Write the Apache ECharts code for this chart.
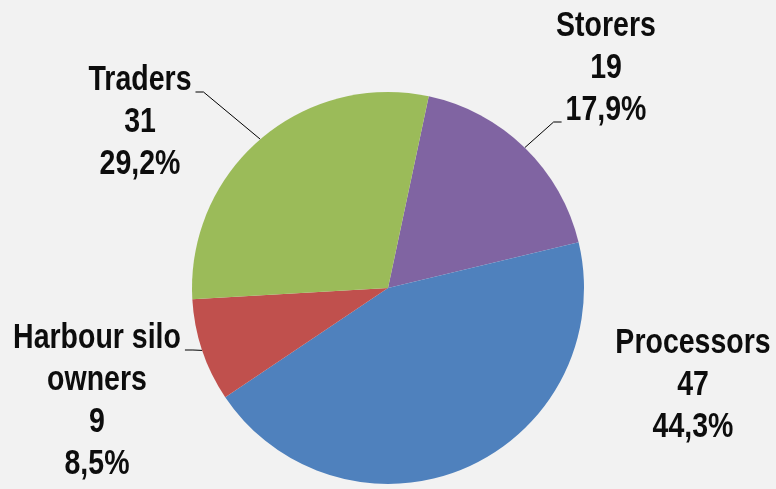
<!DOCTYPE html>
<html>
<head>
<meta charset="utf-8">
<script src="https://cdn.jsdelivr.net/npm/echarts@6/dist/echarts.min.js"></script>
<style>
html,body{margin:0;padding:0;background:#f2f2f2;}
#chart{width:776px;height:489px;}
</style>
</head>
<body>
<div id="chart"></div>
<script>
const categories = ['Storers', 'Processors', 'Harbour silo\nowners', 'Traders'];
const values = [19, 47, 9, 31];
const colors = ['#8064a2', '#4f81bd', '#c0504d', '#9bbb59'];

const total = values.reduce((a, b) => a + b, 0);
const FONT_SIZE = 28.5;
const TEXT_SCALE_Y = 1.22;          // reference font is a tall, narrow face
const LINE_H = 42 / TEXT_SCALE_Y;
const FONT_FAMILY = '"Liberation Sans", Arial, sans-serif';
// label anchor (center x, top y) and which text line the leader attaches to
const labelPos = [
  { x: 606, y: 5, guideLine: 2, side: 'left' },
  { x: 693, y: 322, guideLine: -1 },
  { x: 97, y: 317, guideLine: 0, side: 'right' },
  { x: 140, y: 59, guideLine: 0, side: 'right' }
];

const measureCtx = document.createElement('canvas').getContext('2d');
measureCtx.font = 'bold ' + FONT_SIZE + 'px ' + FONT_FAMILY;
const tw = s => measureCtx.measureText(s).width;

function labelText(i) {
  return categories[i] + '\n' + values[i] + '\n' + (values[i] / total * 100).toFixed(1).replace('.', ',') + '%';
}

const chart = echarts.init(document.getElementById('chart'));
chart.setOption({
  backgroundColor: '#f2f2f2',
  animation: false,
  series: [{
    type: 'pie',
    center: [388, 288],
    radius: 196,
    startAngle: 78,
    clockwise: true,
    avoidLabelOverlap: false,
    data: categories.map((c, i) => ({
      name: c,
      value: values[i],
      itemStyle: { color: colors[i] },
      labelLine: { show: labelPos[i].guideLine >= 0 }
    })),
    label: {
      show: true,
      position: 'outside',
      fontFamily: FONT_FAMILY,
      fontWeight: 'bold',
      fontSize: FONT_SIZE,
      lineHeight: LINE_H,
      color: '#0d0d0d',
      align: 'center',
      formatter: p => labelText(p.dataIndex)
    },
    labelLine: {
      show: true,
      smooth: false,
      lineStyle: { color: '#000', width: 1 }
    },
    labelLayout: params => {
      const i = params.dataIndex;
      const pos = labelPos[i];
      const out = { x: pos.x, y: pos.y, align: 'center', verticalAlign: 'top' };
      if (pos.guideLine >= 0 && params.labelLinePoints) {
        const lineStr = labelText(i).split('\n')[pos.guideLine];
        const w = tw(lineStr);
        const yb = pos.y + (pos.guideLine * LINE_H + LINE_H / 2) * TEXT_SCALE_Y + 12;
        const dir = pos.side === 'right' ? 1 : -1;
        const endX = pos.x + dir * (w / 2 + 4);
        const elbowX = endX + dir * 8;
        const edge = params.labelLinePoints[0];
        out.labelLinePoints = [[edge[0], edge[1]], [elbowX, yb], [endX, yb]];
      }
      return out;
    },
    emphasis: { disabled: true }
  }]
});

try {
  const data = chart.getModel().getSeriesByIndex(0).getData();
  for (let i = 0; i < values.length; i++) {
    const el = data.getItemGraphicEl(i);
    const label = el && el.getTextContent();
    if (label) {
      label.originX = 0;
      label.originY = 0;
      label.scaleY = TEXT_SCALE_Y;
      label.markRedraw();
    }
  }
  chart.getZr().refreshImmediately();
} catch (e) {}
</script>
</body>
</html>
